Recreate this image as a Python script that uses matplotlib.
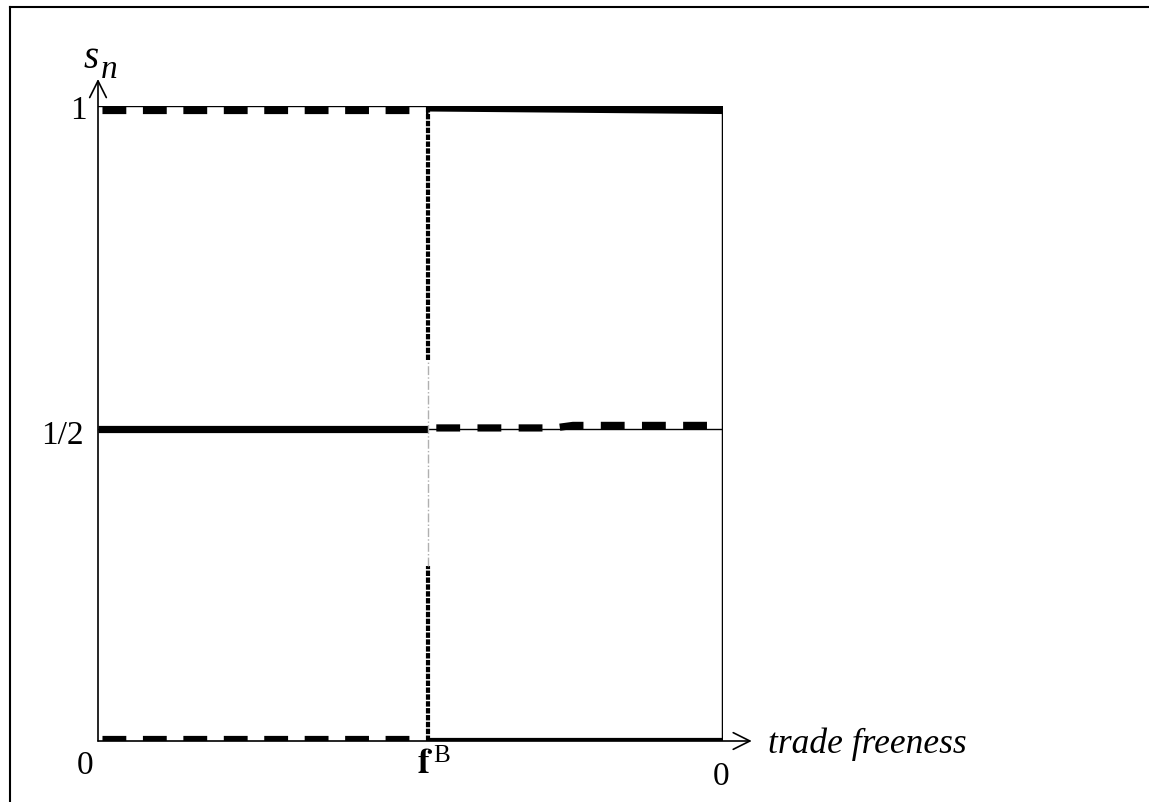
import matplotlib.pyplot as plt
from matplotlib.lines import Line2D

# ================== Data ==================

f_B = 0.528                    # break point on the trade freeness axis
half = 0.491                   # where the 1/2 level is drawn in the picture
y_levels = [0.0, half, 1.0]
y_labels = ["0", "1/2", "1"]

# stable branches (solid) and unstable branches (dashed)
solid_left_x = [0.0, f_B]
solid_left_y = [half, half]
dashed_left_top_x = [0.0, f_B]
dashed_left_top_y = [0.993, 0.993]
dashed_left_bot_x = [0.0, f_B]
dashed_left_bot_y = [0.003, 0.003]

solid_right_top_x = [f_B, 1.0]
solid_right_top_y = [0.997, 0.993]
solid_right_bot_x = [f_B, 1.0]
solid_right_bot_y = [0.0, 0.0]
dashed_right_x = [f_B, 0.73, 0.76, 1.0]
dashed_right_y = [0.493, 0.493, 0.497, 0.497]

plt.rcParams['font.family'] = ['Liberation Serif', 'DejaVu Serif']

W, H = 1149, 803
fig = plt.figure(figsize=(W / 100, H / 100), dpi=100)
L, R, T, B = 98, 723, 107, 742
ax = fig.add_axes([L / W, (H - B) / H, (R - L) / W, (B - T) / H])
ax.set_xlim(0, 1)
ax.set_ylim(0, 1)
ax.axis('off')

# frame of the picture
fig.add_artist(Line2D([10 / W, 10 / W], [0, 1 - 8 / H], color='black', lw=1.5))
fig.add_artist(Line2D([10 / W, 1], [1 - 8 / H, 1 - 8 / H], color='black', lw=1.5))

# thin box and mid line
ax.plot([0, 1], [1, 1], color='black', lw=1.0)
ax.plot([0, 1], [half, half], color='black', lw=1.0)
ax.plot([1, 1], [0, 1], color='black', lw=2.5)

# axes with open arrows
arrow = dict(arrowstyle='->', lw=1.2, mutation_scale=30, shrinkA=0, shrinkB=0)
ax.annotate('', xy=(0, 1.0425), xytext=(0, 0), arrowprops=arrow, annotation_clip=False)
ax.annotate('', xy=(1.046, 0), xytext=(0, 0), arrowprops=arrow, annotation_clip=False)

# branches
lw = 5.2
for xs, ys in [(solid_left_x, solid_left_y), (solid_right_top_x, solid_right_top_y),
               (solid_right_bot_x, solid_right_bot_y)]:
    ax.plot(xs, ys, color='black', lw=lw, solid_capstyle='butt')
for xs, ys in [(dashed_left_top_x, dashed_left_top_y), (dashed_left_bot_x, dashed_left_bot_y)]:
    ax.plot(xs, ys, color='black', lw=lw, dash_capstyle='butt',
            linestyle=(5.05, (3.3, 2.3)))
ax.plot(dashed_right_x, dashed_right_y, color='black', lw=lw, dash_capstyle='butt',
        linestyle=(4.55, (3.3, 2.4)))

# vertical line at f_B
ax.plot([f_B, f_B], [0.6, 1.0], color='black', lw=3, linestyle=(0, (1.3, 0.35)))
ax.plot([f_B, f_B], [0.0, 0.275], color='black', lw=3, linestyle=(0, (1.3, 0.35)))
ax.plot([f_B, f_B], [0.275, 0.6], color='#b0b0b0', lw=1, linestyle='-.')

# labels
fs = 24
ax.text(-0.018, 0.994, y_labels[2], fontsize=fs, ha='right', va='center')
ax.text(-0.022, 0.482, y_labels[1], fontsize=fs, ha='right', va='center')
ax.text(-0.008, -0.038, y_labels[0], fontsize=fs, ha='right', va='center')
ax.text(0.997, -0.054, "0", fontsize=fs, ha='center', va='center')
ax.text(0.523, -0.035, r"$\mathbf{f}$", fontsize=fs + 2, ha='center', va='center',
        math_fontfamily='stix')
ax.text(0.536, -0.022, "B", fontsize=fs - 6, ha='left', va='center')
ax.text(1.072, -0.003, "trade freeness", fontsize=25.5, style='italic', ha='left', va='center')
ax.text(-0.011, 1.077, "s", fontsize=fs + 4, style='italic', ha='center', va='center')
ax.text(0.018, 1.058, "n", fontsize=fs, style='italic', ha='center', va='center')

fig.savefig("out.png", dpi=100)
